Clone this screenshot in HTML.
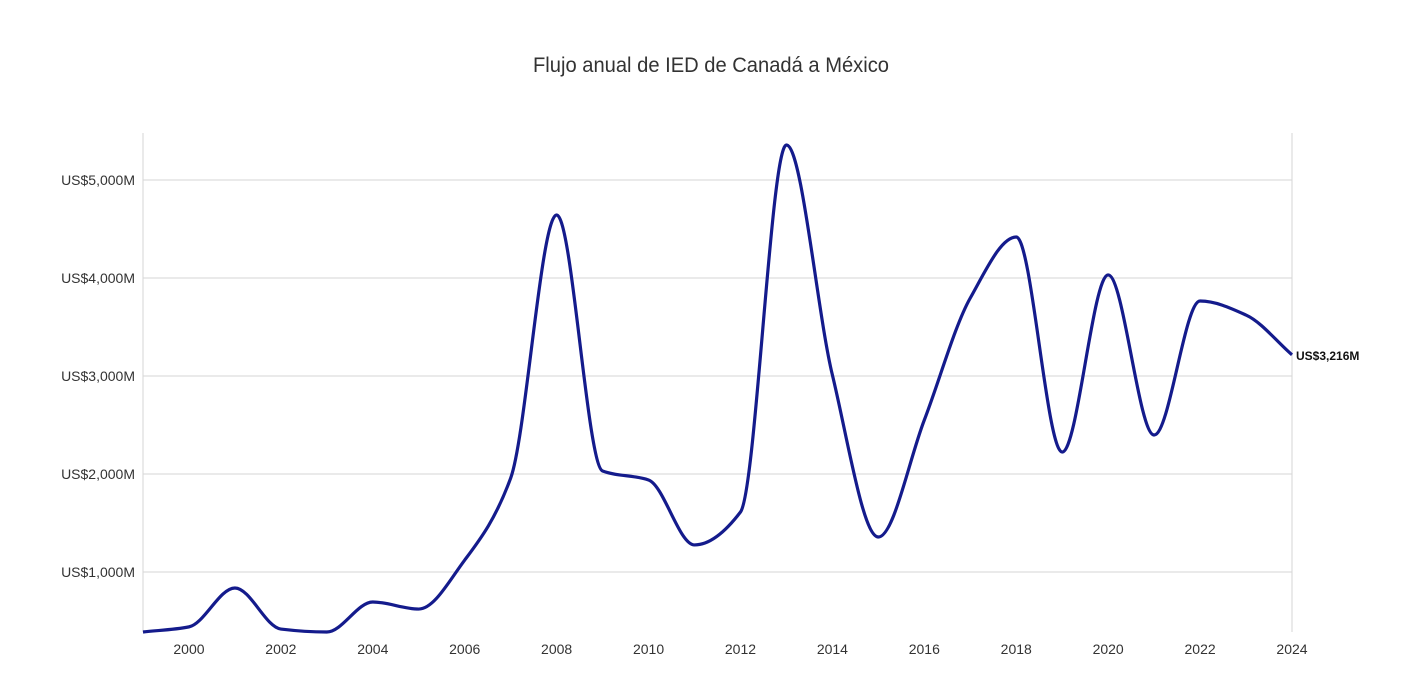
<!DOCTYPE html>
<html><head><meta charset="utf-8"><style>
body{margin:0;background:#fff;font-family:"Liberation Sans",sans-serif;}
svg text{font-family:"Liberation Sans",sans-serif;}
</style></head><body>
<svg id="chart" width="1422" height="681" xmlns="http://www.w3.org/2000/svg">
<text x="711" y="72" text-anchor="middle" font-size="21" fill="#333" textLength="356" lengthAdjust="spacingAndGlyphs">Flujo anual de IED de Canadá a México</text>
<g id="grid"></g><g id="axes"></g><g id="series"></g>
</svg>
<script>
const years=[1999,2000,2001,2002,2003,2004,2005,2006,2007,2008,2009,2010,2011,2012,2013,2014,2015,2016,2017,2018,2019,2020,2021,2022,2023,2024];
const values=[388,440,837,418,388,694,622,1122,1959,4643,2031,1939,1276,1612,5357,3010,1357,2551,3796,4418,2224,4031,2398,3765,3622,3216];
const yTicks=[1000,2000,3000,4000,5000];
const yTickLabels=["US$1,000M","US$2,000M","US$3,000M","US$4,000M","US$5,000M"];
const xTicks=[2000,2002,2004,2006,2008,2010,2012,2014,2016,2018,2020,2022,2024];
const NS="http://www.w3.org/2000/svg";
const x0=143,x1=1292,yTop=133,yBot=632;
function xs(v){return x0+(v-1999)/(2024-1999)*(x1-x0);}
function ys(v){return 670-v*0.098;}
function mk(t,a,p){const e=document.createElementNS(NS,t);for(const k in a)e.setAttribute(k,a[k]);p.appendChild(e);return e;}
const grid=document.getElementById('grid'),axes=document.getElementById('axes'),ser=document.getElementById('series');
yTicks.forEach((v,i)=>{
 const l=mk('line',{x1:x0,x2:x1,y1:ys(v),y2:ys(v),stroke:'#d6d6d6','stroke-width':1},grid);
 
 
 const t=mk('text',{x:135,y:ys(v)+5,'text-anchor':'end','font-size':14,fill:'#333'},axes);
 t.textContent=yTickLabels[i];
 
 
});
[x0,x1].forEach(x=>{
 const l=mk('line',{x1:x,x2:x,y1:yTop,y2:yBot,stroke:'#d6d6d6','stroke-width':1},axes);
 
 
});
xTicks.forEach(v=>{
 const t=mk('text',{x:xs(v),y:654,'text-anchor':'middle','font-size':14,fill:'#333'},axes);
 t.textContent=v;
 
 
});
// monotone cubic
const P=years.map((y,i)=>[xs(y),ys(values[i])]);
const n=P.length,d=[],m=[];
for(let i=0;i<n-1;i++)d.push((P[i+1][1]-P[i][1])/(P[i+1][0]-P[i][0]));
m[0]=d[0];m[n-1]=d[n-2];
for(let i=1;i<n-1;i++){if(d[i-1]*d[i]<=0)m[i]=0;else{const h0=P[i][0]-P[i-1][0],h1=P[i+1][0]-P[i][0];m[i]=3*(h0+h1)/((2*h1+h0)/d[i-1]+(h1+2*h0)/d[i]);}}
let path='M'+P[0][0]+','+P[0][1];
for(let i=0;i<n-1;i++){const h=(P[i+1][0]-P[i][0])/3;path+=`C${P[i][0]+h},${P[i][1]+m[i]*h} ${P[i+1][0]-h},${P[i+1][1]-m[i+1]*h} ${P[i+1][0]},${P[i+1][1]}`;}
const line=mk('path',{d:path,fill:'none',stroke:'#141b8c','stroke-width':3.2},ser);


const last=values[n-1];
const lab=mk('text',{x:xs(years[n-1])+4,y:ys(last)+5,'font-size':12,'font-weight':'bold',fill:'#111'},ser);
lab.textContent='US$'+last.toLocaleString('en-US')+'M';


</script>
</body></html>
